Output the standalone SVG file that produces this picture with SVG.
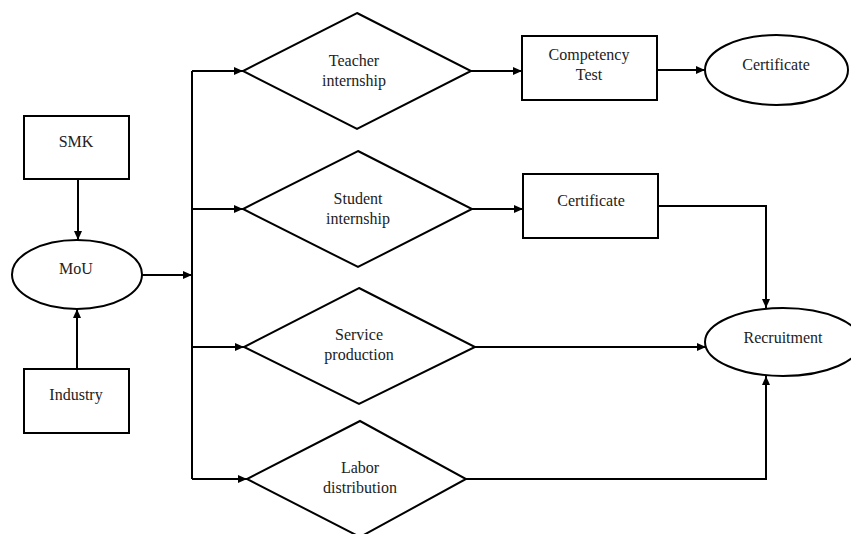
<svg xmlns="http://www.w3.org/2000/svg" width="851" height="534" viewBox="0 0 851 534">
<defs>
<marker id="ah" markerWidth="10" markerHeight="10" refX="9" refY="5" orient="auto" markerUnits="userSpaceOnUse">
<path d="M0,1 L9,5 L0,9 Z" fill="#000"/>
</marker>
<style>
.s{fill:#fff;stroke:#000;stroke-width:2}
.c{fill:none;stroke:#000;stroke-width:2;marker-end:url(#ah)}
text{font-family:"Liberation Serif","Times New Roman",serif;font-size:16px;fill:#222;text-anchor:middle}
</style>
</defs>
<rect width="851" height="534" fill="#fff"/>
<g id="connectors">
<path class="c" d="M78,179 V240"/>
<path class="c" d="M77,369 V309"/>
<path class="c" d="M142,275 H192"/>
<path d="M192,71 V479" fill="none" stroke="#000" stroke-width="2"/>
<path class="c" d="M192,71 H243"/>
<path class="c" d="M192,209 H243"/>
<path class="c" d="M192,347 H244"/>
<path class="c" d="M192,479 H247"/>
<path class="c" d="M471,71 H522"/>
<path class="c" d="M657,70 H705"/>
<path class="c" d="M472,209 H523"/>
<path class="c" d="M658,206 H766 V308"/>
<path class="c" d="M475,347 H706"/>
<path class="c" d="M466,479 H766 V376"/>
</g>
<g id="smk"><rect class="s" x="24" y="116" width="105" height="63"/><text x="76" y="147">SMK</text></g>
<g id="mou"><ellipse class="s" cx="77" cy="274.5" rx="65" ry="34.5"/><text x="76" y="274">MoU</text></g>
<g id="industry"><rect class="s" x="24" y="369" width="105" height="64"/><text x="76" y="400">Industry</text></g>
<g id="teacher"><polygon class="s" points="357,13 471,71 357,129 243,71"/><text x="354" y="66">Teacher</text><text x="354" y="86">internship</text></g>
<g id="student"><polygon class="s" points="358,151 472,209 358,267 243,209"/><text x="358" y="204">Student</text><text x="358" y="224">internship</text></g>
<g id="service"><polygon class="s" points="359,288 475,347 359,404 244,347"/><text x="359" y="340">Service</text><text x="359" y="360">production</text></g>
<g id="labor"><polygon class="s" points="360,421 466,479 360,537 247,479"/><text x="360" y="473">Labor</text><text x="360" y="493">distribution</text></g>
<g id="competency"><rect class="s" x="522" y="36" width="135" height="64"/><text x="589" y="60">Competency</text><text x="589" y="80">Test</text></g>
<g id="certificate1"><ellipse class="s" cx="776.5" cy="70" rx="71.5" ry="35"/><text x="776" y="70">Certificate</text></g>
<g id="certificate2"><rect class="s" x="523" y="174" width="135" height="64"/><text x="591" y="206">Certificate</text></g>
<g id="recruitment"><ellipse class="s" cx="783" cy="342" rx="78" ry="34"/><text x="783" y="343">Recruitment</text></g>
</svg>
